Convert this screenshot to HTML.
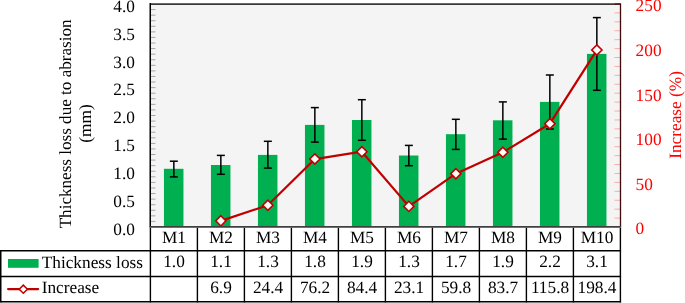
<!DOCTYPE html>
<html><head><meta charset="utf-8"><title>Thickness loss chart</title>
<style>
html,body{margin:0;padding:0;background:#fff;}
body{width:685px;height:303px;overflow:hidden;}
svg{display:block;}
text{font-family:"Liberation Serif","Times New Roman",serif;font-size:17.3px;fill:#000;text-rendering:geometricPrecision;}
</style></head><body>
<svg width="685" height="303" viewBox="0 0 685 303">
<rect x="150" y="4" width="470" height="223" fill="#f4f4f4"/>
<line x1="150" x2="155.5" y1="221.43" y2="221.43" stroke="#a6a6a6" stroke-width="1"/>
<line x1="150" x2="155.5" y1="215.85" y2="215.85" stroke="#a6a6a6" stroke-width="1"/>
<line x1="150" x2="155.5" y1="210.28" y2="210.28" stroke="#a6a6a6" stroke-width="1"/>
<line x1="150" x2="155.5" y1="204.70" y2="204.70" stroke="#a6a6a6" stroke-width="1"/>
<line x1="150" x2="155.5" y1="199.12" y2="199.12" stroke="#a6a6a6" stroke-width="1"/>
<line x1="150" x2="155.5" y1="193.55" y2="193.55" stroke="#a6a6a6" stroke-width="1"/>
<line x1="150" x2="155.5" y1="187.97" y2="187.97" stroke="#a6a6a6" stroke-width="1"/>
<line x1="150" x2="155.5" y1="182.40" y2="182.40" stroke="#a6a6a6" stroke-width="1"/>
<line x1="150" x2="155.5" y1="176.82" y2="176.82" stroke="#a6a6a6" stroke-width="1"/>
<line x1="150" x2="155.5" y1="171.25" y2="171.25" stroke="#a6a6a6" stroke-width="1"/>
<line x1="150" x2="155.5" y1="165.68" y2="165.68" stroke="#a6a6a6" stroke-width="1"/>
<line x1="150" x2="155.5" y1="160.10" y2="160.10" stroke="#a6a6a6" stroke-width="1"/>
<line x1="150" x2="155.5" y1="154.52" y2="154.52" stroke="#a6a6a6" stroke-width="1"/>
<line x1="150" x2="155.5" y1="148.95" y2="148.95" stroke="#a6a6a6" stroke-width="1"/>
<line x1="150" x2="155.5" y1="143.38" y2="143.38" stroke="#a6a6a6" stroke-width="1"/>
<line x1="150" x2="155.5" y1="137.80" y2="137.80" stroke="#a6a6a6" stroke-width="1"/>
<line x1="150" x2="155.5" y1="132.23" y2="132.23" stroke="#a6a6a6" stroke-width="1"/>
<line x1="150" x2="155.5" y1="126.65" y2="126.65" stroke="#a6a6a6" stroke-width="1"/>
<line x1="150" x2="155.5" y1="121.08" y2="121.08" stroke="#a6a6a6" stroke-width="1"/>
<line x1="150" x2="155.5" y1="115.50" y2="115.50" stroke="#a6a6a6" stroke-width="1"/>
<line x1="150" x2="155.5" y1="109.92" y2="109.92" stroke="#a6a6a6" stroke-width="1"/>
<line x1="150" x2="155.5" y1="104.35" y2="104.35" stroke="#a6a6a6" stroke-width="1"/>
<line x1="150" x2="155.5" y1="98.78" y2="98.78" stroke="#a6a6a6" stroke-width="1"/>
<line x1="150" x2="155.5" y1="93.20" y2="93.20" stroke="#a6a6a6" stroke-width="1"/>
<line x1="150" x2="155.5" y1="87.62" y2="87.62" stroke="#a6a6a6" stroke-width="1"/>
<line x1="150" x2="155.5" y1="82.05" y2="82.05" stroke="#a6a6a6" stroke-width="1"/>
<line x1="150" x2="155.5" y1="76.47" y2="76.47" stroke="#a6a6a6" stroke-width="1"/>
<line x1="150" x2="155.5" y1="70.90" y2="70.90" stroke="#a6a6a6" stroke-width="1"/>
<line x1="150" x2="155.5" y1="65.33" y2="65.33" stroke="#a6a6a6" stroke-width="1"/>
<line x1="150" x2="155.5" y1="59.75" y2="59.75" stroke="#a6a6a6" stroke-width="1"/>
<line x1="150" x2="155.5" y1="54.17" y2="54.17" stroke="#a6a6a6" stroke-width="1"/>
<line x1="150" x2="155.5" y1="48.60" y2="48.60" stroke="#a6a6a6" stroke-width="1"/>
<line x1="150" x2="155.5" y1="43.03" y2="43.03" stroke="#a6a6a6" stroke-width="1"/>
<line x1="150" x2="155.5" y1="37.45" y2="37.45" stroke="#a6a6a6" stroke-width="1"/>
<line x1="150" x2="155.5" y1="31.88" y2="31.88" stroke="#a6a6a6" stroke-width="1"/>
<line x1="150" x2="155.5" y1="26.30" y2="26.30" stroke="#a6a6a6" stroke-width="1"/>
<line x1="150" x2="155.5" y1="20.72" y2="20.72" stroke="#a6a6a6" stroke-width="1"/>
<line x1="150" x2="155.5" y1="15.15" y2="15.15" stroke="#a6a6a6" stroke-width="1"/>
<line x1="150" x2="155.5" y1="9.58" y2="9.58" stroke="#a6a6a6" stroke-width="1"/>
<line x1="614.5" x2="620" y1="218.08" y2="218.08" stroke="#ffa8a8" stroke-width="1"/>
<line x1="614.5" x2="620" y1="209.16" y2="209.16" stroke="#ffa8a8" stroke-width="1"/>
<line x1="614.5" x2="620" y1="200.24" y2="200.24" stroke="#ffa8a8" stroke-width="1"/>
<line x1="614.5" x2="620" y1="191.32" y2="191.32" stroke="#ffa8a8" stroke-width="1"/>
<line x1="614.5" x2="620" y1="182.40" y2="182.40" stroke="#ffa8a8" stroke-width="1"/>
<line x1="614.5" x2="620" y1="173.48" y2="173.48" stroke="#ffa8a8" stroke-width="1"/>
<line x1="614.5" x2="620" y1="164.56" y2="164.56" stroke="#ffa8a8" stroke-width="1"/>
<line x1="614.5" x2="620" y1="155.64" y2="155.64" stroke="#ffa8a8" stroke-width="1"/>
<line x1="614.5" x2="620" y1="146.72" y2="146.72" stroke="#ffa8a8" stroke-width="1"/>
<line x1="614.5" x2="620" y1="137.80" y2="137.80" stroke="#ffa8a8" stroke-width="1"/>
<line x1="614.5" x2="620" y1="128.88" y2="128.88" stroke="#ffa8a8" stroke-width="1"/>
<line x1="614.5" x2="620" y1="119.96" y2="119.96" stroke="#ffa8a8" stroke-width="1"/>
<line x1="614.5" x2="620" y1="111.04" y2="111.04" stroke="#ffa8a8" stroke-width="1"/>
<line x1="614.5" x2="620" y1="102.12" y2="102.12" stroke="#ffa8a8" stroke-width="1"/>
<line x1="614.5" x2="620" y1="93.20" y2="93.20" stroke="#ffa8a8" stroke-width="1"/>
<line x1="614.5" x2="620" y1="84.28" y2="84.28" stroke="#ffa8a8" stroke-width="1"/>
<line x1="614.5" x2="620" y1="75.36" y2="75.36" stroke="#ffa8a8" stroke-width="1"/>
<line x1="614.5" x2="620" y1="66.44" y2="66.44" stroke="#ffa8a8" stroke-width="1"/>
<line x1="614.5" x2="620" y1="57.52" y2="57.52" stroke="#ffa8a8" stroke-width="1"/>
<line x1="614.5" x2="620" y1="48.60" y2="48.60" stroke="#ffa8a8" stroke-width="1"/>
<line x1="614.5" x2="620" y1="39.68" y2="39.68" stroke="#ffa8a8" stroke-width="1"/>
<line x1="614.5" x2="620" y1="30.76" y2="30.76" stroke="#ffa8a8" stroke-width="1"/>
<line x1="614.5" x2="620" y1="21.84" y2="21.84" stroke="#ffa8a8" stroke-width="1"/>
<line x1="614.5" x2="620" y1="12.92" y2="12.92" stroke="#ffa8a8" stroke-width="1"/>
<rect x="163.95" y="168.80" width="19.5" height="58.20" fill="#00b050"/>
<rect x="210.95" y="165.00" width="19.5" height="62.00" fill="#00b050"/>
<rect x="257.95" y="154.90" width="19.5" height="72.10" fill="#00b050"/>
<rect x="304.95" y="124.90" width="19.5" height="102.10" fill="#00b050"/>
<rect x="351.95" y="120.00" width="19.5" height="107.00" fill="#00b050"/>
<rect x="398.95" y="155.50" width="19.5" height="71.50" fill="#00b050"/>
<rect x="445.95" y="134.20" width="19.5" height="92.80" fill="#00b050"/>
<rect x="492.95" y="120.30" width="19.5" height="106.70" fill="#00b050"/>
<rect x="539.95" y="101.90" width="19.5" height="125.10" fill="#00b050"/>
<rect x="586.95" y="53.90" width="19.5" height="173.10" fill="#00b050"/>
<line x1="173.85" x2="173.85" y1="161.2" y2="176.9" stroke="#000" stroke-width="1.5"/>
<line x1="169.85" x2="177.85" y1="161.2" y2="161.2" stroke="#000" stroke-width="1.5"/>
<line x1="169.85" x2="177.85" y1="176.9" y2="176.9" stroke="#000" stroke-width="1.5"/>
<line x1="220.85" x2="220.85" y1="155.4" y2="174.3" stroke="#000" stroke-width="1.5"/>
<line x1="216.85" x2="224.85" y1="155.4" y2="155.4" stroke="#000" stroke-width="1.5"/>
<line x1="216.85" x2="224.85" y1="174.3" y2="174.3" stroke="#000" stroke-width="1.5"/>
<line x1="267.85" x2="267.85" y1="141.3" y2="168.1" stroke="#000" stroke-width="1.5"/>
<line x1="263.85" x2="271.85" y1="141.3" y2="141.3" stroke="#000" stroke-width="1.5"/>
<line x1="263.85" x2="271.85" y1="168.1" y2="168.1" stroke="#000" stroke-width="1.5"/>
<line x1="314.85" x2="314.85" y1="107.6" y2="142.1" stroke="#000" stroke-width="1.5"/>
<line x1="310.85" x2="318.85" y1="107.6" y2="107.6" stroke="#000" stroke-width="1.5"/>
<line x1="310.85" x2="318.85" y1="142.1" y2="142.1" stroke="#000" stroke-width="1.5"/>
<line x1="361.85" x2="361.85" y1="99.7" y2="140.3" stroke="#000" stroke-width="1.5"/>
<line x1="357.85" x2="365.85" y1="99.7" y2="99.7" stroke="#000" stroke-width="1.5"/>
<line x1="357.85" x2="365.85" y1="140.3" y2="140.3" stroke="#000" stroke-width="1.5"/>
<line x1="408.85" x2="408.85" y1="145.4" y2="165.7" stroke="#000" stroke-width="1.5"/>
<line x1="404.85" x2="412.85" y1="145.4" y2="145.4" stroke="#000" stroke-width="1.5"/>
<line x1="404.85" x2="412.85" y1="165.7" y2="165.7" stroke="#000" stroke-width="1.5"/>
<line x1="455.85" x2="455.85" y1="119.3" y2="149.4" stroke="#000" stroke-width="1.5"/>
<line x1="451.85" x2="459.85" y1="119.3" y2="119.3" stroke="#000" stroke-width="1.5"/>
<line x1="451.85" x2="459.85" y1="149.4" y2="149.4" stroke="#000" stroke-width="1.5"/>
<line x1="502.85" x2="502.85" y1="101.9" y2="139.1" stroke="#000" stroke-width="1.5"/>
<line x1="498.85" x2="506.85" y1="101.9" y2="101.9" stroke="#000" stroke-width="1.5"/>
<line x1="498.85" x2="506.85" y1="139.1" y2="139.1" stroke="#000" stroke-width="1.5"/>
<line x1="549.85" x2="549.85" y1="75.0" y2="129.0" stroke="#000" stroke-width="1.5"/>
<line x1="545.85" x2="553.85" y1="75.0" y2="75.0" stroke="#000" stroke-width="1.5"/>
<line x1="545.85" x2="553.85" y1="129.0" y2="129.0" stroke="#000" stroke-width="1.5"/>
<line x1="596.85" x2="596.85" y1="17.6" y2="90.3" stroke="#000" stroke-width="1.5"/>
<line x1="592.85" x2="600.85" y1="17.6" y2="17.6" stroke="#000" stroke-width="1.5"/>
<line x1="592.85" x2="600.85" y1="90.3" y2="90.3" stroke="#000" stroke-width="1.5"/>
<polyline points="220.85,220.85 267.85,205.24 314.85,159.03 361.85,151.72 408.85,206.39 455.85,173.66 502.85,152.34 549.85,123.71 596.85,50.03" fill="none" stroke="#c00000" stroke-width="2.25" stroke-linejoin="round"/>
<path d="M220.85 215.75L225.95 220.85L220.85 225.95L215.75 220.85Z" fill="#fff" stroke="#c00000" stroke-width="1.6"/>
<path d="M267.85 200.14L272.95 205.24L267.85 210.34L262.75 205.24Z" fill="#fff" stroke="#c00000" stroke-width="1.6"/>
<path d="M314.85 153.93L319.95 159.03L314.85 164.13L309.75 159.03Z" fill="#fff" stroke="#c00000" stroke-width="1.6"/>
<path d="M361.85 146.62L366.95 151.72L361.85 156.82L356.75 151.72Z" fill="#fff" stroke="#c00000" stroke-width="1.6"/>
<path d="M408.85 201.29L413.95 206.39L408.85 211.49L403.75 206.39Z" fill="#fff" stroke="#c00000" stroke-width="1.6"/>
<path d="M455.85 168.56L460.95 173.66L455.85 178.76L450.75 173.66Z" fill="#fff" stroke="#c00000" stroke-width="1.6"/>
<path d="M502.85 147.24L507.95 152.34L502.85 157.44L497.75 152.34Z" fill="#fff" stroke="#c00000" stroke-width="1.6"/>
<path d="M549.85 118.61L554.95 123.71L549.85 128.81L544.75 123.71Z" fill="#fff" stroke="#c00000" stroke-width="1.6"/>
<path d="M596.85 44.93L601.95 50.03L596.85 55.13L591.75 50.03Z" fill="#fff" stroke="#c00000" stroke-width="1.6"/>
<line x1="150" x2="620" y1="4.15" y2="4.15" stroke="#383838" stroke-width="1.7"/>
<line x1="614.8" x2="620" y1="4.15" y2="4.15" stroke="#5a1a1a" stroke-width="1.7"/>
<line x1="150.25" x2="150.25" y1="3" y2="227" stroke="#000" stroke-width="1.5"/>
<line x1="620.5" x2="620.5" y1="3.25" y2="227" stroke="#3f0a0a" stroke-width="1.3"/>
<line x1="0.5" x2="621.1" y1="250.75" y2="250.75" stroke="#000" stroke-width="1.4"/>
<line x1="0.5" x2="621.1" y1="276.5" y2="276.5" stroke="#000" stroke-width="1.4"/>
<line x1="0.5" x2="621.1" y1="301.7" y2="301.7" stroke="#000" stroke-width="1.4"/>
<line x1="0.75" x2="0.75" y1="250" y2="302.4" stroke="#000" stroke-width="1.5"/>
<line x1="150.4" x2="150.4" y1="227.6" y2="302.4" stroke="#000" stroke-width="1.4"/>
<line x1="197.4" x2="197.4" y1="227.6" y2="302.4" stroke="#000" stroke-width="1.4"/>
<line x1="244.4" x2="244.4" y1="227.6" y2="302.4" stroke="#000" stroke-width="1.4"/>
<line x1="291.4" x2="291.4" y1="227.6" y2="302.4" stroke="#000" stroke-width="1.4"/>
<line x1="338.4" x2="338.4" y1="227.6" y2="302.4" stroke="#000" stroke-width="1.4"/>
<line x1="385.4" x2="385.4" y1="227.6" y2="302.4" stroke="#000" stroke-width="1.4"/>
<line x1="432.4" x2="432.4" y1="227.6" y2="302.4" stroke="#000" stroke-width="1.4"/>
<line x1="479.4" x2="479.4" y1="227.6" y2="302.4" stroke="#000" stroke-width="1.4"/>
<line x1="526.4" x2="526.4" y1="227.6" y2="302.4" stroke="#000" stroke-width="1.4"/>
<line x1="573.4" x2="573.4" y1="227.6" y2="302.4" stroke="#000" stroke-width="1.4"/>
<line x1="620.4" x2="620.4" y1="227.6" y2="302.4" stroke="#000" stroke-width="1.4"/>
<line x1="149.5" x2="621.1" y1="226.9" y2="226.9" stroke="#404040" stroke-width="1.6"/>
<rect x="8" y="259" width="30.6" height="8.8" fill="#00b050"/>
<line x1="8.1" x2="38.1" y1="289" y2="289" stroke="#c00000" stroke-width="2.25" stroke-linecap="round"/>
<path d="M23.3 285.09999999999997L27.4 289.2L23.3 293.3L19.200000000000003 289.2Z" fill="#fff" stroke="#c00000" stroke-width="1.5"/>
<g>
<text x="134.9" y="234.80" text-anchor="end">0.0</text>
<text x="134.9" y="206.93" text-anchor="end">0.5</text>
<text x="134.9" y="179.05" text-anchor="end">1.0</text>
<text x="134.9" y="151.18" text-anchor="end">1.5</text>
<text x="134.9" y="123.30" text-anchor="end">2.0</text>
<text x="134.9" y="95.42" text-anchor="end">2.5</text>
<text x="134.9" y="67.55" text-anchor="end">3.0</text>
<text x="134.9" y="39.67" text-anchor="end">3.5</text>
<text x="134.9" y="11.80" text-anchor="end">4.0</text>
<text x="635.6" y="234.40" style="fill:#ff0000">0</text>
<text x="635.6" y="189.80" style="fill:#ff0000">50</text>
<text x="635.6" y="145.20" style="fill:#ff0000">100</text>
<text x="635.6" y="100.60" style="fill:#ff0000">150</text>
<text x="635.6" y="56.00" style="fill:#ff0000">200</text>
<text x="635.6" y="11.40" style="fill:#ff0000">250</text>
<text x="174.0" y="242.7" text-anchor="middle">M1</text>
<text x="174.0" y="267.1" text-anchor="middle">1.0</text>
<text x="221.0" y="242.7" text-anchor="middle">M2</text>
<text x="221.0" y="267.1" text-anchor="middle">1.1</text>
<text x="221.0" y="293.2" text-anchor="middle">6.9</text>
<text x="268.0" y="242.7" text-anchor="middle">M3</text>
<text x="268.0" y="267.1" text-anchor="middle">1.3</text>
<text x="268.0" y="293.2" text-anchor="middle">24.4</text>
<text x="315.0" y="242.7" text-anchor="middle">M4</text>
<text x="315.0" y="267.1" text-anchor="middle">1.8</text>
<text x="315.0" y="293.2" text-anchor="middle">76.2</text>
<text x="362.0" y="242.7" text-anchor="middle">M5</text>
<text x="362.0" y="267.1" text-anchor="middle">1.9</text>
<text x="362.0" y="293.2" text-anchor="middle">84.4</text>
<text x="409.0" y="242.7" text-anchor="middle">M6</text>
<text x="409.0" y="267.1" text-anchor="middle">1.3</text>
<text x="409.0" y="293.2" text-anchor="middle">23.1</text>
<text x="456.0" y="242.7" text-anchor="middle">M7</text>
<text x="456.0" y="267.1" text-anchor="middle">1.7</text>
<text x="456.0" y="293.2" text-anchor="middle">59.8</text>
<text x="503.0" y="242.7" text-anchor="middle">M8</text>
<text x="503.0" y="267.1" text-anchor="middle">1.9</text>
<text x="503.0" y="293.2" text-anchor="middle">83.7</text>
<text x="550.0" y="242.7" text-anchor="middle">M9</text>
<text x="550.0" y="267.1" text-anchor="middle">2.2</text>
<text x="550.0" y="293.2" text-anchor="middle">115.8</text>
<text x="597.0" y="242.7" text-anchor="middle">M10</text>
<text x="597.0" y="267.1" text-anchor="middle">3.1</text>
<text x="597.0" y="293.2" text-anchor="middle">198.4</text>
<text x="41.7" y="267.9">Thickness loss</text>
<text x="41.7" y="293.2">Increase</text>
<text transform="translate(70.8 123.9) rotate(-90)" text-anchor="middle" style="font-size:17.1px">Thickness loss due to abrasion</text>
<text transform="translate(91.4 123.5) rotate(-90)" text-anchor="middle">(mm)</text>
<text transform="translate(680.8 114.9) rotate(-90)" text-anchor="middle" style="fill:#ff0000">Increase (%)</text>
</g>
</svg>
</body></html>
